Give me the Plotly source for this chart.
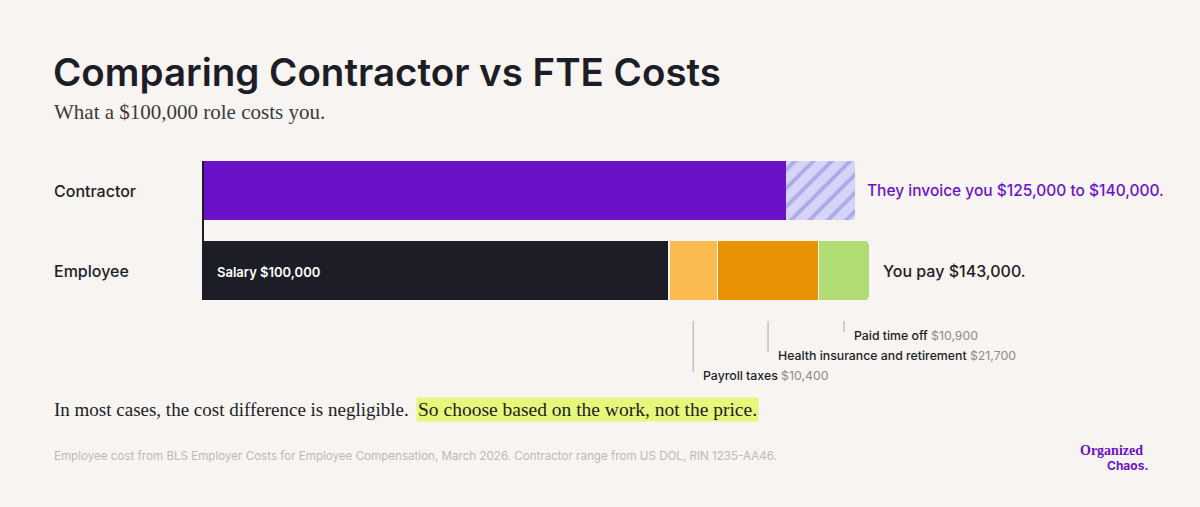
import plotly.graph_objects as go

# data
categories = ["Employee", "Contractor"]
contractor_low = 125000
contractor_high = 140000
employee_parts = ["Salary", "Payroll taxes", "Health insurance and retirement", "Paid time off"]
employee_values = [100000, 10400, 21700, 10900]
employee_colors = ["#1d1d27", "#fbbb51", "#e89204", "#b1dc74"]

bg = "#f7f4f1"
dark = "#1d1d27"
purple = "#6b12c9"
sans = "Inter, Roboto, sans-serif"
serif = "Liberation Serif, DejaVu Serif, serif"

W, H = 1200, 507
x0_px = 203          # pixel where $0 sits
px_per_dollar = 0.00466


def px(xp):
    return xp / W


def py(yp):
    return 1 - yp / H


fig = go.Figure()

# Contractor bar: solid low end + hatched range
fig.add_trace(go.Bar(
    y=["Contractor"], x=[contractor_low], orientation="h",
    marker=dict(color=purple, line=dict(width=0)),
    width=0.74, hoverinfo="skip", showlegend=False,
))
fig.add_trace(go.Bar(
    y=["Contractor"], x=[contractor_high - contractor_low], orientation="h",
    marker=dict(color="#d4d2f7", line=dict(width=0),
                pattern=dict(shape="/", fgcolor="#adabe7", bgcolor="#d6d4f8",
                             size=13, solidity=0.3, fillmode="replace")),
    width=0.74, hoverinfo="skip", showlegend=False,
))

# Employee bar: stacked parts
for name, val, col in zip(employee_parts, employee_values, employee_colors):
    fig.add_trace(go.Bar(
        y=["Employee"], x=[val], orientation="h",
        marker=dict(color=col, line=dict(width=1.6, color=bg)),
        width=0.76, hoverinfo="skip", showlegend=False, name=name,
    ))

# axis line on the left of the bars
fig.add_shape(type="line", x0=0, x1=0, y0=-0.37, y1=1.37, xref="x", yref="y",
              line=dict(color=dark, width=2))

ann = []
# title & subtitle
ann.append(dict(x=px(51), y=py(72), text="Comparing Contractor vs FTE Costs",
                font=dict(family=sans, size=38.5, color=dark, weight=600)))
ann.append(dict(x=px(52), y=py(112), text="What a $100,000 role costs you.",
                font=dict(family=serif, size=21, color="#3a3a40")))
# category labels
ann.append(dict(x=px(52), y=py(191), text="Contractor",
                font=dict(family=sans, size=16, color=dark, weight=500)))
ann.append(dict(x=px(52), y=py(271), text="Employee",
                font=dict(family=sans, size=16, color=dark, weight=500)))

# salary label inside bar
ann.append(dict(x=0, xref="x", xshift=12, y=py(272), text=f"{employee_parts[0]} ${employee_values[0]:,}",
                font=dict(family=sans, size=13, color="#ffffff", weight=600)))

# end-of-bar labels
total = sum(employee_values)
ann.append(dict(x=contractor_high, xref="x", xshift=10, y=py(191),
                text=f"They invoice you ${contractor_low:,} to ${contractor_high:,}.",
                font=dict(family=sans, size=15.5, color=purple, weight=500)))
ann.append(dict(x=total, xref="x", xshift=12, y=py(271),
                text=f"You pay ${total:,}.",
                font=dict(family=sans, size=16, color=dark, weight=500)))

# leader lines and labels for the add-on costs
line_bottoms = [372, 352, 332]
cum = employee_values[0]
for name, val, yb in zip(employee_parts[1:], employee_values[1:], line_bottoms):
    mid = cum + val / 2
    cum += val
    fig.add_shape(type="line", x0=mid, x1=mid, xref="x", yref="paper",
                  y0=py(321), y1=py(yb), line=dict(color="#a9a6a3", width=1))
    ann.append(dict(x=mid, xref="x", xshift=8, y=py(yb + 3),
                    text=f"{name} <span style='color:#8e8c8a;font-weight:400'>${val:,}</span>",
                    font=dict(family=sans, size=12.3, color=dark, weight=500)))

# takeaway sentence
ann.append(dict(x=px(52), y=py(409), text="In most cases, the cost difference is negligible.",
                font=dict(family=serif, size=19, color=dark)))
ann.append(dict(x=px(416), y=py(409), text="So choose based on the work, not the price.",
                bgcolor="#e6f77a", borderpad=1,
                font=dict(family=serif, size=19.5, color=dark)))

# source note
ann.append(dict(x=px(52), y=py(456),
                text="Employee cost from BLS Employer Costs for Employee Compensation, March 2026. "
                     "Contractor range from US DOL, RIN 1235-AA46.",
                font=dict(family=sans, size=11.6, color="#bdbab7")))

# logo
ann.append(dict(x=px(1078), y=py(450), text="Organized",
                font=dict(family=serif, size=14, color=purple, weight=700)))
ann.append(dict(x=px(1105), y=py(465), text="Chaos.",
                font=dict(family=sans, size=12, color=purple, weight=700)))

for a in ann:
    a.setdefault("xref", "paper")
    a.setdefault("yref", "paper")
    a.setdefault("xanchor", "left")
    a.setdefault("yanchor", "middle")
    a["showarrow"] = False

fig.update_layout(
    width=W, height=H,
    barmode="stack",
    barcornerradius=4,
    paper_bgcolor=bg, plot_bgcolor=bg,
    margin=dict(l=0, r=0, t=0, b=0),
    annotations=ann,
    xaxis=dict(range=[-x0_px / px_per_dollar, (W - x0_px) / px_per_dollar],
               visible=False, fixedrange=True),
    yaxis=dict(type="category", categoryarray=categories,
               range=[-(H - 270.5) / 80, 1 + 190.5 / 80],
               visible=False, fixedrange=True),
)

fig.write_html("out.html", config={"displayModeBar": False},
               post_script="document.body.style.margin='0';")
